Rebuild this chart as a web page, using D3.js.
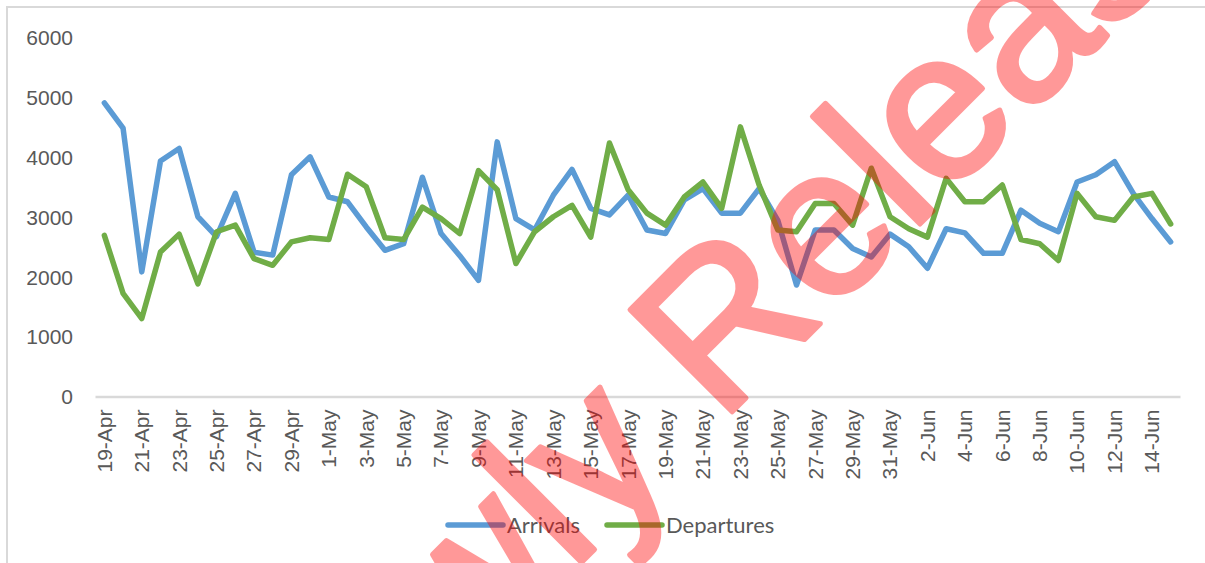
<!DOCTYPE html>
<html>
<head>
<meta charset="utf-8">
<script src="https://cdn.jsdelivr.net/npm/d3@7"></script>
<style>
    html, body { margin: 0; padding: 0; background: #fff; }
    svg { display: block; font-family: Lato, "Open Sans", sans-serif; }
</style>
</head>
<body>
<div id="chart"></div>
<script>
// Daily categories (19-Apr .. 15-Jun)
const dates = [
    "19-Apr", "20-Apr", "21-Apr", "22-Apr", "23-Apr", "24-Apr", "25-Apr", "26-Apr", "27-Apr", "28-Apr",
    "29-Apr", "30-Apr", "1-May", "2-May", "3-May", "4-May", "5-May", "6-May", "7-May", "8-May",
    "9-May", "10-May", "11-May", "12-May", "13-May", "14-May", "15-May", "16-May", "17-May", "18-May",
    "19-May", "20-May", "21-May", "22-May", "23-May", "24-May", "25-May", "26-May", "27-May", "28-May",
    "29-May", "30-May", "31-May", "1-Jun", "2-Jun", "3-Jun", "4-Jun", "5-Jun", "6-Jun", "7-Jun",
    "8-Jun", "9-Jun", "10-Jun", "11-Jun", "12-Jun", "13-Jun", "14-Jun", "15-Jun"
];

const arrivals = [
    4900, 4480, 2080, 3930, 4140, 3000, 2670, 3390, 2410, 2360,
    3700, 4000, 3330, 3250, 2830, 2440, 2550, 3660, 2720, 2350,
    1940, 4250, 2970, 2780, 3360, 3790, 3140, 3030, 3360, 2780,
    2720, 3280, 3470, 3060, 3060, 3470, 2940, 1860, 2780, 2780,
    2470, 2330, 2710, 2500, 2140, 2800, 2730, 2390, 2390, 3110,
    2890, 2750, 3580, 3700, 3920, 3390, 2970, 2580
];

const departures = [
    2690, 1720, 1300, 2410, 2710, 1880, 2750, 2860, 2300, 2190,
    2580, 2650, 2620, 3710, 3500, 2650, 2620, 3160, 2970, 2720,
    3770, 3450, 2220, 2750, 3000, 3190, 2660, 4230, 3450, 3060,
    2860, 3330, 3580, 3140, 4500, 3530, 2780, 2750, 3220, 3220,
    2860, 3810, 3000, 2800, 2660, 3640, 3250, 3250, 3530, 2620,
    2550, 2270, 3390, 3000, 2940, 3330, 3390, 2880
];

const yTicks = [0, 1000, 2000, 3000, 4000, 5000, 6000];

const seriesNames = ["Arrivals", "Departures"];
const seriesColors = ["#5B9BD5", "#70AD47"];

const width = 1205, height = 563;
const textColor = "#595959";
const gridColor = "#d9d9d9";

const svg = d3.select("#chart")
    .append("svg")
    .attr("width", width)
    .attr("height", height);

// chart frame (only top + left edge are visible in the picture)
svg.append("path")
    .attr("d", `M7,${height + 5} L7,7 L${width + 5},7`)
    .attr("fill", "none")
    .attr("stroke", gridColor)
    .attr("stroke-width", 2);

const x = d3.scaleBand()
    .domain(dates)
    .range([95, 1180])
    .padding(0);

const y = d3.scaleLinear()
    .domain([0, 6000])
    .range([396.5, 37]);

const xc = d => x(d) + x.bandwidth() / 2;

// y axis: labels only
const yAxis = svg.append("g")
    .attr("transform", "translate(73,0)")
    .call(d3.axisLeft(y).tickValues(yTicks).tickSize(0).tickPadding(0).tickFormat(d3.format("d")));
yAxis.select(".domain").remove();
yAxis.selectAll("text")
    .attr("fill", textColor)
    .style("font-size", "21px")
    .attr("dy", "0.35em");

// x axis with every second date, rotated
const xAxis = svg.append("g")
    .attr("transform", `translate(0,${y(0)})`)
    .call(d3.axisBottom(x)
        .tickValues(dates.filter((d, i) => i % 2 === 0))
        .tickSize(0)
        .tickPadding(0));
xAxis.select(".domain")
    .attr("stroke", gridColor)
    .attr("stroke-width", 2.5);
xAxis.selectAll("text")
    .attr("fill", textColor)
    .style("font-size", "21px")
    .attr("text-anchor", "end")
    .attr("transform", "rotate(-90)")
    .attr("x", -13)
    .attr("y", 0)
    .attr("dy", "0.35em");

// lines
const line = d3.line()
    .x((d, i) => xc(dates[i]))
    .y(d => y(d));

[arrivals, departures].forEach((values, k) => {
    svg.append("path")
        .datum(values)
        .attr("class", "series-line")
        .attr("fill", "none")
        .attr("stroke", seriesColors[k])
        .attr("stroke-width", 5.5)
        .attr("stroke-linejoin", "round")
        .attr("stroke-linecap", "round")
        .attr("d", line);
});

// legend
const legendX = [448, 607];
const legend = svg.append("g").attr("class", "legend");
seriesNames.forEach((name, k) => {
    legend.append("line")
        .attr("x1", legendX[k]).attr("x2", legendX[k] + 55)
        .attr("y1", 525).attr("y2", 525)
        .attr("stroke", seriesColors[k])
        .attr("stroke-width", 5.5)
        .attr("stroke-linecap", "round");
    legend.append("text")
        .attr("x", legendX[k] + 59)
        .attr("y", 525)
        .attr("dy", "0.35em")
        .attr("fill", textColor)
        .style("font-size", "22px")
        .text(name);
});

// watermark stamped over the chart (opacity on the element so stroke+fill blend once)
svg.append("text")
    .attr("transform", "translate(811,333) rotate(-45)")
    .attr("text-anchor", "middle")
    .attr("fill", "#ff0000")
    .attr("stroke", "#ff0000")
    .attr("stroke-width", 5)
    .attr("stroke-linejoin", "round")
    .attr("opacity", 0.4)
    .style("font-family", "'Liberation Sans', Arial, sans-serif")
    .style("font-size", "210px")
    .text("Newly Released");
</script>
</body>
</html>
